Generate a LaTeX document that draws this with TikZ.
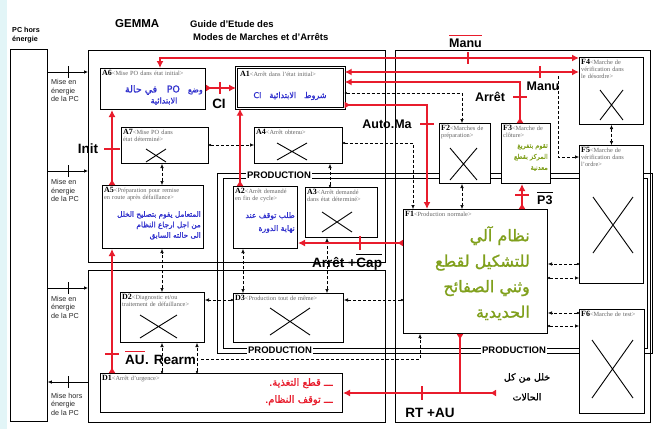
\documentclass[tikz,border=0pt]{standalone}
\usepackage{fontspec}
\setmainfont{Liberation Serif}
\setsansfont{Liberation Sans}
\newfontfamily\arabicfont[Script=Arabic,FakeBold=1.2]{DejaVu Sans}
\TeXXeTstate=1
\usetikzlibrary{arrows.meta}
\definecolor{gred}{RGB}{232,28,44}
\definecolor{gblue}{RGB}{48,48,205}
\definecolor{ggreen}{RGB}{128,160,28}
\definecolor{ggray}{RGB}{100,100,100}
\definecolor{bgcyan}{RGB}{226,245,247}
\newcommand{\AR}[1]{\beginR #1\endR}
\newcommand{\LT}[1]{\beginL #1\endL{}}
\newcommand{\bt}[2]{{\fontsize{8}{8}\selectfont\bfseries\color{black}#1}<#2>}
\begin{document}
\begin{tikzpicture}[x=1pt,y=-1pt,
  zone/.style={draw, line width=0.8pt, inner sep=0pt, anchor=north west},
  gbox/.style={draw, line width=1pt, fill=white, inner sep=0pt, anchor=north west},
  btt/.style={anchor=north west, inner sep=0pt, align=left, font=\fontsize{6.3}{7.2}\selectfont, text=ggray},
  xmark/.style={line width=0.9pt},
  dcon/.style={densely dashed, line width=0.55pt, {Circle[length=2.2pt]}-{Latex[length=4pt,width=3.5pt]}},
  dboth/.style={densely dashed, line width=0.55pt, {Latex[length=4pt,width=3.5pt]}-{Latex[length=4pt,width=3.5pt]}},
  rcon/.style={gred, line width=1.6pt, {Latex[reversed,length=6pt,width=7pt]}-{Latex[length=7pt,width=7pt]}},
  rboth/.style={gred, line width=1.6pt, {Latex[length=7pt,width=7pt]}-{Latex[length=7pt,width=7pt]}},
  rstart/.style={gred, line width=1.6pt, {Latex[reversed,length=6pt,width=7pt]}-},
  rtick/.style={gred, line width=1.4pt},
  ptick/.style={line width=0.8pt},
  pcon/.style={line width=0.7pt, -{Latex[length=4pt,width=3.5pt]}},
  lab/.style={font=\sffamily\bfseries\fontsize{12.5}{13}\selectfont, inner sep=0pt},
  labb/.style={font=\sffamily\bfseries\fontsize{13.5}{14}\selectfont, inner sep=0pt},
  prod/.style={font=\sffamily\bfseries\fontsize{9.5}{10}\selectfont, fill=white, inner sep=1.5pt},
  mlab/.style={font=\sffamily\fontsize{7.2}{8.5}\selectfont, align=left, anchor=north west, inner sep=0pt, text=black!85},
  arb/.style={inner sep=0pt},
]
\useasboundingbox (0,0) rectangle (656,429);
\fill[white] (0,0) rectangle (656,429);
\fill[bgcyan] (0,0) rectangle (7,429);

% zones
\node[zone, minimum width=37pt, minimum height=372pt] (PC) at (10,49) {};
\node[zone, minimum width=297pt, minimum height=212pt] (AZ) at (88,50) {};
\node[zone, minimum width=297pt, minimum height=152pt] (DZ) at (88,270) {};
\node[zone, minimum width=255pt, minimum height=372pt] (FZ) at (395,50) {};

% production frame (double line)
\draw[line width=0.6pt] (217,173) rectangle (652,353);
\draw[line width=0.6pt] (223,178) rectangle (647,348);
\node[prod] (pr1) at (279,175) {PRODUCTION};
\node[prod] (pr2) at (280,350) {PRODUCTION};
\node[prod] (pr3) at (514,350) {PRODUCTION};

% titles
\node[anchor=base west, font=\sffamily\bfseries\fontsize{11.5}{12}\selectfont, inner sep=0pt] (gemma) at (115,27.5) {GEMMA};
\node[anchor=base west, font=\sffamily\bfseries\fontsize{9.5}{10}\selectfont, inner sep=0pt] (gt1) at (190,27.5) {Guide d'Etude des};
\node[anchor=base west, font=\sffamily\bfseries\fontsize{9.5}{10}\selectfont, inner sep=0pt] (gt2) at (193,40.5) {Modes de Marches et d'Arrêts};
\node[anchor=north west, font=\sffamily\bfseries\fontsize{7.2}{9}\selectfont, align=left, inner sep=0pt] (pct) at (12,27) {PC hors\\énergie};

% left labels
\node[mlab] (m1) at (51,79.5) {Mise en\\énergie\\de la PC};
\node[mlab] (m2) at (51,179.5) {Mise en\\énergie\\de la PC};
\node[mlab] (m3) at (51,296) {Mise en\\énergie\\de la PC};
\node[mlab] (m4) at (51,393) {Mise hors\\énergie\\de la PC};

% boxes
\node[gbox, minimum width=105pt, minimum height=41pt] (A6) at (100,68) {};
\node[gbox, double, double distance=1.4pt, line width=0.7pt, minimum width=108pt, minimum height=41pt] (A1) at (236,67) {};
\node[gbox, minimum width=87pt, minimum height=36pt] (A7) at (121,127) {};
\node[gbox, minimum width=88pt, minimum height=36pt] (A4) at (254,127) {};
\node[gbox, minimum width=101pt, minimum height=63pt] (A5) at (102,185) {};
\node[gbox, minimum width=64pt, minimum height=62pt] (A2) at (233,186) {};
\node[gbox, minimum width=72pt, minimum height=50pt] (A3) at (305,187) {};
\node[gbox, minimum width=51pt, minimum height=60pt] (F2) at (439,123) {};
\node[gbox, minimum width=49pt, minimum height=60pt] (F3) at (501,123) {};
\node[gbox, minimum width=64pt, minimum height=67pt] (F4) at (579,57) {};
\node[gbox, minimum width=64pt, minimum height=138pt] (F5) at (579,145) {};
\node[gbox, minimum width=65pt, minimum height=104pt] (F6) at (579,309) {};
\node[gbox, minimum width=144pt, minimum height=124pt] (F1) at (403,209) {};
\node[gbox, minimum width=84pt, minimum height=50pt] (D2) at (120,292) {};
\node[gbox, minimum width=110pt, minimum height=49pt] (D3) at (233,293) {};
\node[gbox, minimum width=242pt, minimum height=39pt] (D1) at (100,373) {};

% crosses
\draw[xmark] (146,149) -- (166,162) (146,162) -- (166,149);
\draw[xmark] (277,143) -- (307,160) (277,160) -- (307,143);
\draw[xmark] (322,212) -- (352,232) (322,232) -- (352,212);
\draw[xmark] (450,148) -- (477,180) (450,180) -- (477,148);
\draw[xmark] (600,90) -- (623,120) (600,120) -- (623,90);
\draw[xmark] (593,197) -- (633,253) (593,253) -- (633,197);
\draw[xmark] (592,340) -- (633,398) (592,398) -- (633,340);
\draw[xmark] (140,315) -- (177,338) (140,338) -- (177,315);
\draw[xmark] (270,308) -- (310,335) (270,335) -- (310,308);

% box titles
\node[btt, text width=101pt] (A6h) at (102,70) {\bt{A6}{Mise PO dans état initial}};
\node[btt, text width=102pt] (A1h) at (240,71) {\bt{A1}{Arrêt dans l'état initial}};
\node[btt, text width=83pt] (A7h) at (123,129) {\bt{A7}{Mise PO dans\\état déterminé}};
\node[btt, text width=84pt] (A4h) at (256,129) {\bt{A4}{Arrêt obtenu}};
\node[btt, text width=97pt] (A5h) at (104,187) {\bt{A5}{Préparation pour remise\\en route après défaillance}};
\node[btt, text width=60pt] (A2h) at (235,188) {\bt{A2}{Arrêt demandé\\en fin de cycle}};
\node[btt, text width=68pt] (A3h) at (307,189) {\bt{A3}{Arrêt demandé\\dans état déterminé}};
\node[btt, text width=47pt] (F2h) at (441,125) {\bt{F2}{Marches de\\préparation}};
\node[btt, text width=45pt] (F3h) at (503,125) {\bt{F3}{Marche de\\clôture}};
\node[btt, text width=60pt] (F4h) at (581,59) {\bt{F4}{Marche de\\vérification dans\\le désordre}};
\node[btt, text width=60pt] (F5h) at (581,147) {\bt{F5}{Marche de\\vérification dans\\l'ordre}};
\node[btt, text width=61pt] (F6h) at (581,311) {\bt{F6}{Marche de test}};
\node[btt, text width=140pt] (F1h) at (405,211) {\bt{F1}{Production normale}};
\node[btt, text width=80pt] (D2h) at (122,294) {\bt{D2}{Diagnostic et/ou\\traitement de défaillance}};
\node[btt, text width=106pt] (D3h) at (235,295) {\bt{D3}{Production tout de même}};
\node[btt, text width=120pt] (D1h) at (102,375) {\bt{D1}{Arrêt d'urgence}};

% arabic texts
\node[arb, anchor=east, text=gblue, font={\arabicfont\fontsize{8}{9}\selectfont}] (a6t1) at (203,90) {\AR{وضع\quad \LT{\fontsize{9.5}{9.5}\selectfont PO}\quad في حالة}};
\node[arb, text=gblue, font={\arabicfont\fontsize{8}{9}\selectfont}] (a6t2) at (164,101) {\AR{الابتدائية}};
\node[arb, text=gblue, font={\arabicfont\fontsize{8}{9}\selectfont}] (a1t) at (290,96) {\AR{شروط\quad الابتدائية\quad \LT{CI}}};
\node[arb, anchor=north east, align=right, text=gblue, font={\arabicfont\fontsize{7.3}{10.5}\selectfont}] (a5t) at (201,211) {\AR{المتعامل يقوم بتصليح الخلل}\\\AR{من اجل ارجاع النظام}\\\AR{الى حالته السابق}};
\node[arb, anchor=north east, align=right, text=gblue, font={\arabicfont\fontsize{7.6}{13}\selectfont}] (a2t) at (295,212) {\AR{طلب توقف عند}\\\AR{نهاية الدورة}};
\node[arb, anchor=north east, align=right, text=ggreen, font={\arabicfont\fontsize{6.5}{11}\selectfont}] (f3t) at (548,144) {\AR{تقوم بتفريغ}\\\AR{المركز بقطع}\\\AR{معدنية}};
\node[arb, anchor=north east, align=right, text=ggreen, font={\arabicfont\fontsize{16}{25.5}\selectfont}] (f1t) at (530,226) {\AR{نظام آلي}\\\AR{للتشكيل لقطع}\\\AR{وثني الصفائح}\\\AR{الحديدية}};
\node[arb, anchor=north east, align=right, text=gred, font={\arabicfont\fontsize{10}{17}\selectfont}] (d1t) at (333,378) {\AR{ـــ قطع التغذية.}\\\AR{ـــ توقف النظام.}};
\node[arb, anchor=north, align=center, font={\arabicfont\fontsize{9.5}{20}\selectfont}] (errt) at (527,373) {\AR{خلل من كل}\\\AR{الحالات}};

% PC connectors
\draw[pcon] (PC.east |- 0,72) -- (AZ.west |- 0,72);
\draw[pcon] (PC.east |- 0,171) -- (AZ.west |- 0,171);
\draw[pcon] (PC.east |- 0,288) -- (DZ.west |- 0,288);
\draw[pcon] (DZ.west |- 0,382) -- (PC.east |- 0,382);
\draw[ptick] (68,66) -- (68,78) (68,165) -- (68,177) (68,282) -- (68,294) (68,376) -- (68,388);

% dashed connectors
\draw[dcon] (A7.east |- 0,145) -- (A4.west |- 0,145);
\draw[dboth] (A7.south -| 162,0) -- (A5.north -| 162,0);
\draw[dcon] (A4.east |- 0,143) -| (F1.north -| 413,0);
\draw[dcon] (A1.east |- 0,93) -| (F2.north -| 462,0);
\draw[dboth] (F4.south) -- (F5.north);
\coordinate (mk) at (558,76);
\draw[densely dashed, line width=0.55pt, -{Latex[length=4pt,width=3.5pt]}] (mk) |- (F5.west |- 0,157);
\draw[dboth] (F2.south -| 462,0) -- (F1.north -| 462,0);
\draw[dcon] (F5.west |- 0,264) -- (F1.east |- 0,264);
\draw[dcon] (F1.east |- 0,278) -- (F5.west |- 0,278);
\draw[dcon] (F6.west |- 0,313) -- (F1.east |- 0,313);
\draw[dcon] (F1.east |- 0,326) -- (F6.west |- 0,326);
\draw[dcon] (F1.west |- 0,300) -- (D3.east |- 0,300);
\draw[dcon] (D3.west |- 0,300) -- (D2.east |- 0,300);
\draw[dboth] (D2.north -| 162,0) -- (A5.south -| 162,0);
\draw[dcon] (D1.north -| 162,0) -- (D2.south -| 162,0);
\draw[dcon] (D1.north -| 197,0) -- (D2.south -| 197,0);
\coordinate (rm) at (201,359);
\draw[densely dashed, line width=0.55pt, -{Latex[length=4pt,width=3.5pt]}] (rm) -| (F1.south -| 420,0);
\draw[dboth] (D3.north -| 243,0) -- (A2.south -| 243,0);
\draw[dboth] (D3.north -| 327,0) -- (A3.south -| 327,0);
\draw[dcon] (A3.north -| 330,0) -- (A4.south -| 330,0);

% red connectors
\draw[rboth] (F4.west |- 0,58) -| (A6.north -| 160,0);
\draw[rboth] (A1.east |- 0,72) -- (F4.west |- 0,72);
\draw[rcon] (F3.north -| 520,0) |- (A1.east |- 0,82);
\draw[rcon] (A1.east |- 0,105) -| (F1.north -| 427,0);
\draw[rcon] (A2.north -| 240,0) -- (A1.south -| 240,0);
\draw[rcon] (F1.west |- 0,243) -- (A2.east |- 0,243);
\draw[rcon] (F1.north -| 522,0) -- (F3.south -| 522,0);
\draw[rcon] (A5.north -| 112,0) -- (A6.south -| 112,0);
\draw[rcon] (A6.east |- 0,88) -- (A1.west |- 0,88);
\draw[rcon] (D1.north -| 112,0) -- (A5.south -| 112,0);
\coordinate (err) at (496,393);
\draw[rcon] (err) -- (D1.east |- err);
\draw[rstart] (F1.south -| 460,0) -- (460,393);

% red ticks
\draw[rtick] (468,52) -- (468,64);
\draw[rtick] (540,66) -- (540,78);
\draw[rtick] (513,97) -- (527,97);
\draw[rtick] (420,124) -- (434,124);
\draw[rtick] (360,236) -- (360,250);
\draw[rtick] (515,195) -- (529,195);
\draw[rtick] (104,149) -- (120,149);
\draw[rtick] (220,82) -- (220,94);
\draw[rtick] (105,354) -- (119,354);
\draw[rtick] (422,386) -- (422,400);

% labels
\node[lab, anchor=base west] (manu1) at (449,47.5) {Manu};
\draw[gred, line width=1.3pt] ([yshift=3pt]manu1.north west) -- ([yshift=3pt]manu1.north east);
\node[lab] (manu2) at (543,86) {Manu};
\node[lab] (arret) at (490,97) {Arrêt};
\node[lab] (automa) at (387,124) {Auto.Ma};
\node[labb] (init) at (88,149) {Init};
\node[labb] (ci) at (219,104) {CI};
\node[labb, anchor=base west] (arcap) at (312,267) {Arrêt +\ };
\node[labb, anchor=base west] (cap) at (arcap.base east) {Cap};
\draw[line width=1pt] ([yshift=2.5pt]cap.north west) -- ([yshift=2.5pt]cap.north east);
\node[lab, anchor=base west] (p3) at (537,204) {P3};
\draw[line width=1pt] ([yshift=2.5pt]p3.north west) -- ([yshift=2.5pt]p3.north east);
\node[labb, anchor=base west] (au) at (125,364) {AU};
\node[labb, anchor=base west] (rearm) at (au.base east) {. Rearm};
\draw[gred, line width=1.3pt] ([yshift=3pt]au.north west) -- ([yshift=3pt]au.north east);
\node[labb] (rtau) at (430,413) {RT +AU};
\end{tikzpicture}
\end{document}
